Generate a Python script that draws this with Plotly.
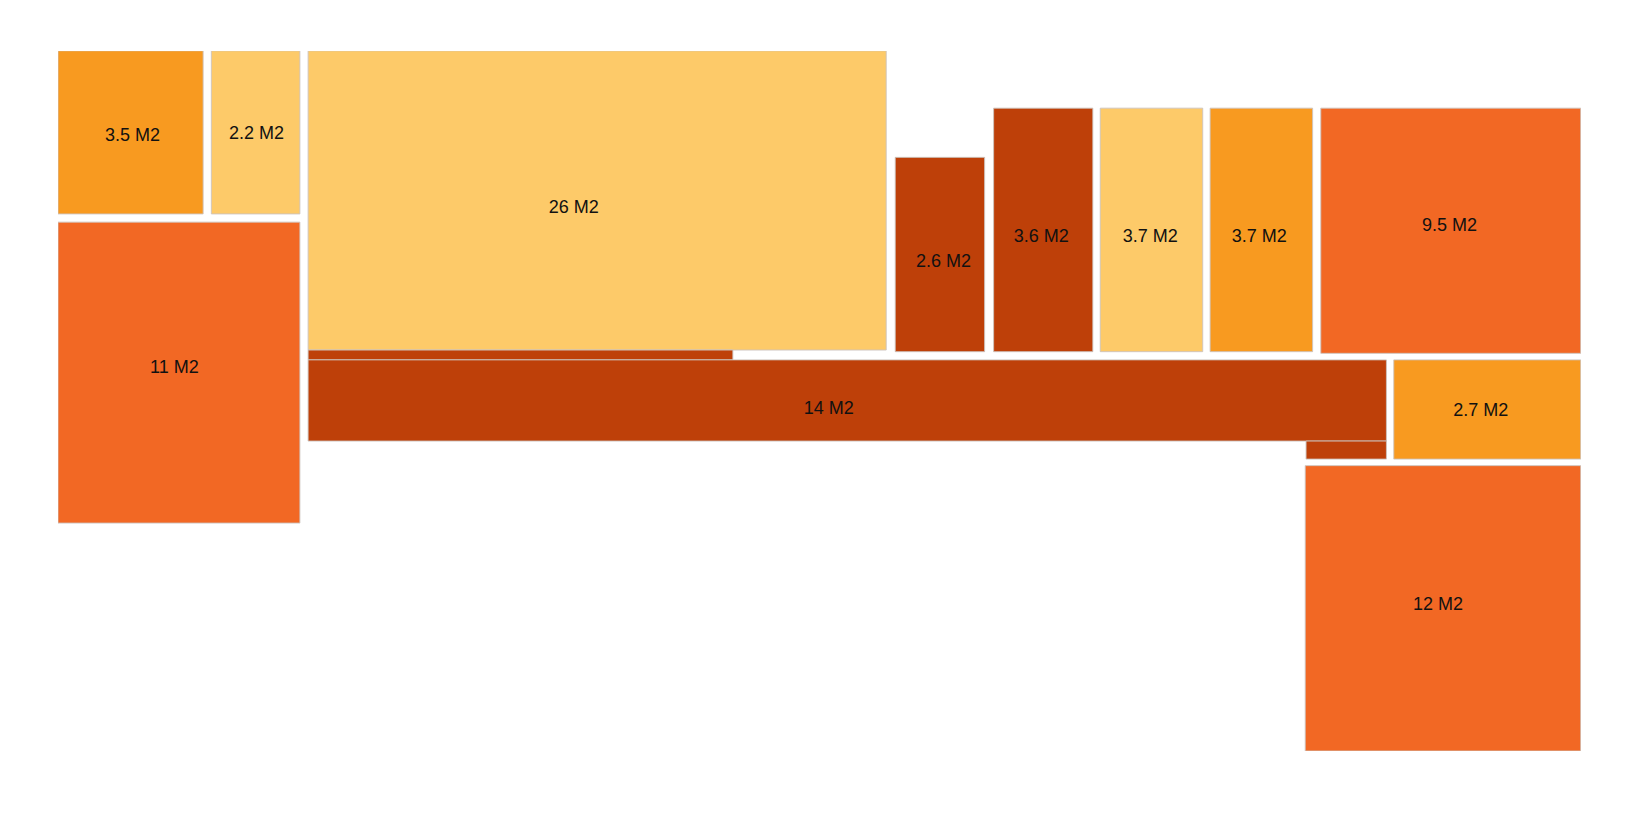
import plotly.graph_objects as go

# floor plan, metres (x to the right, y up from the bottom wall)
room_labels = ["3.5 M2", "2.2 M2", "11 M2", "26 M2", "14 M2", "2.6 M2",
               "3.6 M2", "3.7 M2", "3.7 M2", "9.5 M2", "2.7 M2", "12 M2"]
room_kind = ["orange", "light", "red", "light", "dark", "dark",
             "dark", "light", "orange", "red", "orange", "red"]

# label anchor per room
label_x = [0.91, 2.42, 1.42, 6.29, 9.40, 10.80, 11.99, 13.32, 14.65, 16.97, 17.35, 16.83]
label_y = [7.49, 7.52, 4.67, 6.62, 4.17, 5.96, 6.26, 6.26, 6.26, 6.40, 4.14, 1.78]

# rectangles; rect_room points into room_labels (the 14 M2 room is three pieces)
rect_room = [0, 1, 2, 3, 4, 4, 4, 5, 6, 7, 8, 9, 10, 11]
rect_x0 = [0.00, 1.87, 0.00, 3.05, 3.05, 3.05, 15.22, 10.21, 11.41, 12.71, 14.05, 15.40, 16.29, 15.21]
rect_x1 = [1.77, 2.95, 2.95, 10.10, 8.23, 16.20, 16.20, 11.30, 12.62, 13.96, 15.30, 18.57, 18.57, 18.57]
rect_y0 = [6.55, 6.55, 2.78, 4.89, 4.77, 3.78, 3.56, 4.87, 4.87, 4.87, 4.87, 4.85, 3.56, 0.00]
rect_y1 = [8.54, 8.54, 6.45, 8.54, 4.89, 4.77, 3.78, 7.24, 7.84, 7.84, 7.84, 7.84, 4.77, 3.48]

colors = {
    "light": "#FDCA69",
    "orange": "#F89A20",
    "red": "#F26824",
    "dark": "#BE4009",
}

fig = go.Figure()

for i in range(len(rect_room)):
    x0, x1, y0, y1 = rect_x0[i], rect_x1[i], rect_y0[i], rect_y1[i]
    room = rect_room[i]
    fig.add_trace(go.Scatter(
        x=[x0, x1, x1, x0, x0],
        y=[y0, y0, y1, y1, y0],
        mode='lines',
        fill='toself',
        fillcolor=colors[room_kind[room]],
        line=dict(color='rgba(205,195,190,0.9)', width=1),
        name=room_labels[room],
        hoverinfo='name',
        showlegend=False
    ))

# area labels
fig.add_trace(go.Scatter(
    x=label_x,
    y=label_y,
    mode='text',
    text=room_labels,
    textposition='middle center',
    textfont=dict(family="Liberation Sans, Arial, sans-serif", size=18, color='#111111'),
    hoverinfo='skip',
    showlegend=False
))

# page body keeps its 8px default margin, so the figure is 16px smaller
fig.update_layout(
    width=1628,
    height=802,
    margin=dict(l=50, r=55, t=43, b=59),
    paper_bgcolor='white',
    plot_bgcolor='white',
    xaxis=dict(range=[0, 18.573], visible=False, fixedrange=True),
    yaxis=dict(range=[0, 8.537], visible=False, fixedrange=True),
)

fig.write_html("out.html")
